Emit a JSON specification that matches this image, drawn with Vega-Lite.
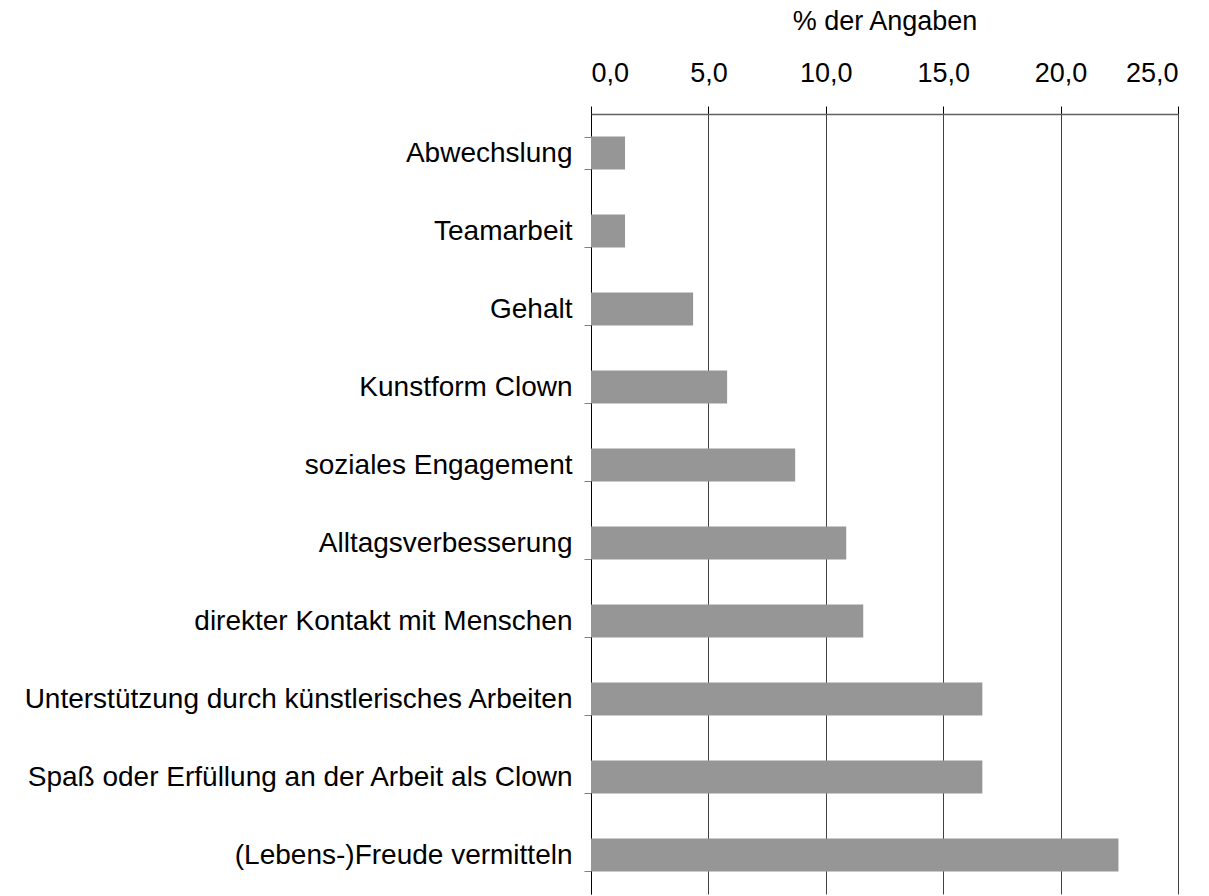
{
  "$schema": "https://vega.github.io/schema/vega-lite/v6.json",
  "width": 587,
  "height": 780,
  "autosize": {"type": "none"},
  "padding": {"left": 591, "top": 114, "right": 31, "bottom": 2},
  "background": "white",
  "data": {
    "values": [
      {"grund": "Abwechslung", "prozent": 1.449},
      {"grund": "Teamarbeit", "prozent": 1.449},
      {"grund": "Gehalt", "prozent": 4.348},
      {"grund": "Kunstform Clown", "prozent": 5.797},
      {"grund": "soziales Engagement", "prozent": 8.696},
      {"grund": "Alltagsverbesserung", "prozent": 10.870},
      {"grund": "direkter Kontakt mit Menschen", "prozent": 11.594},
      {"grund": "Unterstützung durch künstlerisches Arbeiten", "prozent": 16.667},
      {"grund": "Spaß oder Erfüllung an der Arbeit als Clown", "prozent": 16.667},
      {"grund": "(Lebens-)Freude vermitteln", "prozent": 22.464}
    ]
  },
  "mark": {"type": "bar", "color": "#969696"},
  "encoding": {
    "y": {
      "field": "grund",
      "type": "nominal",
      "sort": null,
      "scale": {"paddingInner": 0.58, "paddingOuter": 0.29},
      "axis": {
        "title": null,
        "tickBand": "extent",
        "ticks": true,
        "tickSize": 7,
        "tickColor": "#808080",
        "domainColor": "#000000",
        "domainWidth": 1,
        "labelFont": "Liberation Sans",
        "labelFontSize": 28,
        "labelColor": "#000000",
        "labelPadding": 12,
        "labelLimit": 700,
        "grid": false
      }
    },
    "x": {
      "field": "prozent",
      "type": "quantitative",
      "scale": {"domain": [0, 25], "nice": false},
      "axis": {
        "orient": "top",
        "title": "% der Angaben",
        "titleFont": "Liberation Sans",
        "titleFontSize": 27,
        "titleFontWeight": "normal",
        "titleColor": "#000000",
        "titlePadding": 24,
        "values": [0, 5, 10, 15, 20, 25],
        "format": ".1f",
        "labelFont": "Liberation Sans",
        "labelFontSize": 27,
        "labelColor": "#000000",
        "labelPadding": 19,
        "tickSize": 8,
        "tickColor": "#000000",
        "domain": true,
        "domainColor": "#606060",
        "domainWidth": 1.5,
        "grid": true,
        "gridColor": "#404040",
        "gridWidth": 1
      }
    }
  },
  "config": {
    "view": {"stroke": null},
    "locale": {
      "number": {"decimal": ",", "thousands": ".", "grouping": [3], "currency": ["", " €"]}
    }
  }
}
